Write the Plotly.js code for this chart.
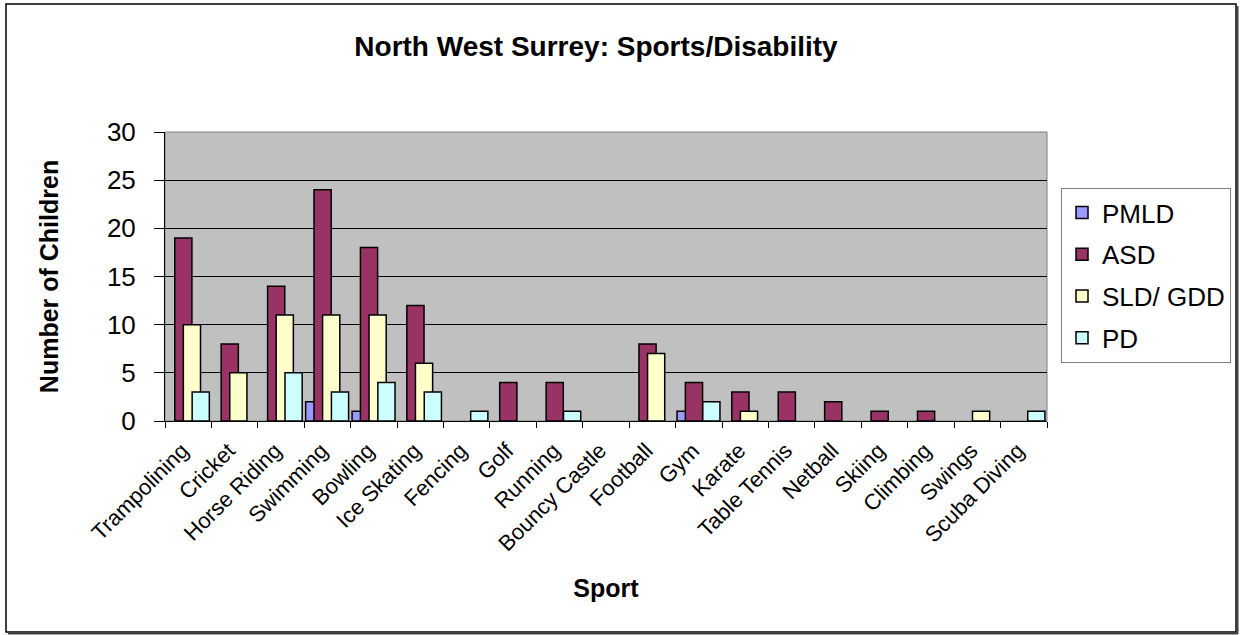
<!DOCTYPE html>
<html>
<head>
<meta charset="utf-8">
<script src="https://cdn.plot.ly/plotly-3.0.1.min.js"></script>
<style>html,body{margin:0;padding:0;background:#fff;}#chart{width:1243px;height:635px;}</style>
</head>
<body>
<div id="chart"></div>
<script>
const categories = ["Trampolining","Cricket","Horse Riding","Swimming","Bowling","Ice Skating","Fencing","Golf","Running","Bouncy Castle","Football","Gym","Karate","Table Tennis","Netball","Skiing","Climbing","Swings","Scuba Diving"];
const seriesNames = ["PMLD","ASD","SLD/ GDD","PD"];
const pmld = [0,0,0,2,1,0,0,0,0,0,0,1,0,0,0,0,0,0,0];
const asd  = [19,8,14,24,18,12,0,4,4,0,8,4,3,3,2,1,1,0,0];
const sld  = [10,5,11,11,11,6,0,0,0,0,7,0,1,0,0,0,0,1,0];
const pd   = [3,0,5,3,4,3,1,0,1,0,0,2,0,0,0,0,0,0,1];
const yTicks = [0,5,10,15,20,25,30];

const colors = ["#9999FF","#993366","#FFFFCC","#CCFFFF"];
const offsets = [-0.47,-0.29,-0.105,0.085];
const FONT = "Liberation Sans, Arial, sans-serif";

const allSeries = [pmld, asd, sld, pd];
const traces = allSeries.map((vals, i) => ({
  type: "bar",
  name: seriesNames[i],
  x: categories,
  y: vals.map(v => v === 0 ? null : v),
  offset: offsets[i],
  width: 0.37,
  legendgroup: "g" + i,
  marker: {color: colors[i], line: {color: "#000", width: 1.5}},
  hoverinfo: "x+y+name"
}));

const L = 165, R = 1047, T = 132, B = 421;
const pw = R - L, ph = B - T;
const px = v => (v - L) / pw;
const py = v => (B - v) / ph;

const layout = {
  width: 1243, height: 635, autosize: false,
  margin: {l: L, r: 1243 - R, t: T, b: 635 - B, pad: 0},
  paper_bgcolor: "#ffffff",
  plot_bgcolor: "#C0C0C0",
  barmode: "overlay",
  font: {family: FONT, color: "#000"},
  title: {
    text: "<b>North West Surrey: Sports/Disability</b>",
    font: {family: FONT, size: 28, color: "#000"},
    xref: "paper", x: px(596), xanchor: "center",
    yref: "container", y: 1 - 46/635, yanchor: "middle"
  },
  xaxis: {
    type: "category",
    categoryorder: "array", categoryarray: categories,
    range: [-0.5, categories.length - 0.5],
    tickangle: -45,
    tickfont: {family: FONT, size: 22, color: "#000"},
    ticks: "outside", ticklen: 6, tickcolor: "#000", tickwidth: 1,
    tickson: "boundaries",
    ticklabelstandoff: 7, ticklabelshift: -6,
    showline: true, linecolor: "#000", linewidth: 1,
    showgrid: false, zeroline: false,
    automargin: false,
    title: {text: "<b>Sport</b>", font: {family: FONT, size: 25, color: "#000"}, standoff: 24}
  },
  yaxis: {
    range: [0, 30],
    tickvals: yTicks, ticktext: yTicks.map(String),
    tickfont: {family: FONT, size: 26, color: "#000"},
    ticks: "outside", ticklen: 10, tickcolor: "#000", tickwidth: 1,
    ticklabelstandoff: 13,
    showline: true, linecolor: "#000", linewidth: 1,
    showgrid: true, gridcolor: "#000", gridwidth: 1,
    zeroline: false,
    automargin: false,
    title: {text: "<b>Number of Children</b>", font: {family: FONT, size: 25, color: "#000"}, standoff: 41}
  },
  legend: {
    x: px(1061), xanchor: "left", xref: "paper",
    y: py(188), yanchor: "top", yref: "paper",
    bgcolor: "#ffffff", bordercolor: "#808080", borderwidth: 1,
    font: {family: FONT, size: 26, color: "#000"},
    traceorder: "grouped", tracegroupgap: 5,
    itemclick: false, itemdoubleclick: false
  },
  shapes: [
    {type: "rect", xref: "paper", yref: "paper", x0: 0, x1: 1, y0: 0, y1: 1,
     line: {color: "#808080", width: 1}, layer: "below"},
    {type: "rect", xref: "paper", yref: "paper", x0: px(6), x1: px(1236), y0: py(632), y1: py(4),
     line: {color: "#000", width: 1.5}},
    {type: "line", xref: "paper", yref: "paper", x0: px(1237.5), x1: px(1237.5), y0: py(633.5), y1: py(6),
     line: {color: "#404040", width: 2}},
    {type: "line", xref: "paper", yref: "paper", x0: px(8), x1: px(1238), y0: py(633.5), y1: py(633.5),
     line: {color: "#404040", width: 2}}
  ],
  showlegend: true
};

Plotly.newPlot("chart", traces, layout, {displayModeBar: false, staticPlot: false});
</script>
</body>
</html>
